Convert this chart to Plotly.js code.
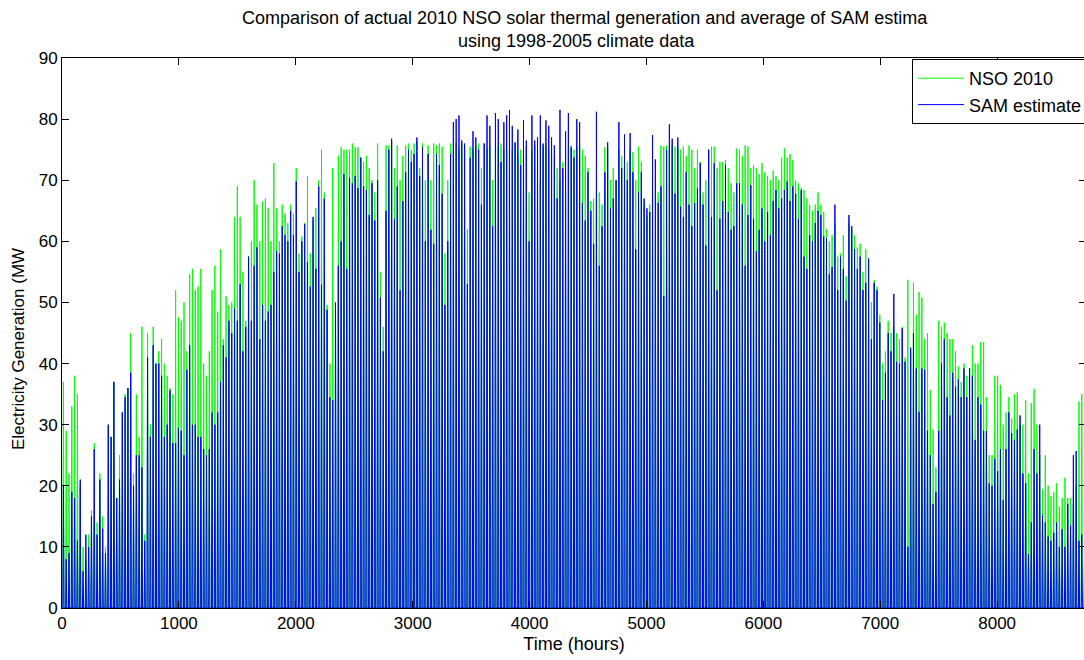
<!DOCTYPE html>
<html>
<head>
<meta charset="utf-8">
<script src="https://cdn.plot.ly/plotly-3.0.1.min.js"></script>
<style>
html,body{margin:0;padding:0;background:#fff;overflow:hidden;}
#chart{width:1089px;height:660px;}
</style>
</head>
<body>
<div id="chart"></div>
<script>
// Daily peak generation (MW), one value per day of 2010
const nso2010 = [
37,29,22,33,38,35,20,10,8,12,16,27,14,22,15,10,30,28,37,18,25,32,35,36,45,22,35,28,46,12,45,30,46,40,42,
44,40,38,36,35,52,47.6,47,50,42,54.6,55.5,52,52.6,55.5,40,38,42,52,56,48.5,58.7,44,51,49.6,50,64,69,64,55,47,57.5,
60,70,66,60,66.5,67,65.5,60,72.8,65.4,60,66,64.5,63,66,64.5,72,58,60.8,63,70.7,58,63.4,65.4,70,75,68,49.6,40,72,49.6,74,75.4,75,
75,75,76,75.4,75.4,73.7,73,74,72,70,68,76,55,46,75.7,75.7,76.3,72,75.7,70,74,75.7,76,75,76,76.3,72,76,70,75.7,70,76,75.7,
76,75.5,58,70,76,75,76,75,76,75.5,62,75.5,75,75.5,76,72,76,75,75.5,70,75,75.5,76,75,75,75.5,75,76,74,75,76,75.5,68,75,
75.7,75,70,75.5,75.7,75,75.5,74,72,70,73,68,75.5,75.7,75,75.5,75.7,75,74,72,66.6,67,67,68,66,75.4,75,70,72,70,75,74,75,73,
75,74.6,70,75.5,73,66,64,66,62,60,68,75.7,75.5,75.7,75,75.7,75.5,75.7,75,75.5,74,75.7,75,72,75,73,68,70,75,75.5,75.5,72,73,
73,73.3,72,69.5,68,75.2,75,74,75.7,75.5,72,72.5,72,71,72.8,71.3,70.7,70,71.6,70.7,70,73.7,75.2,73.7,74.3,73.3,70,69.5,68.7,68.4,67,66,65,66,
68,66,64.8,62,60,61,63,57.5,58,61,54.3,63,62,61,59,59.6,55,58.7,57,50,53.7,52.6,48,40,42,47,45,46,45,44,46,41,53.7,42,
53.2,48,51.7,50.8,44,45,35.6,29.2,23,47,46,46.7,45,44,44,42,39.5,37,40,38,39.2,43,40,40,43.5,43.5,34.5,25,25,38,38,36.5,30,
32,34.5,31,35,35.3,30,30,34,22,33.5,35.8,30,25,19.5,25,20,18.3,19,20.4,16.6,18,21.3,18,18,17,20,33.8,35
];
const samEstimate = [
20,8,9,19,18,11,21,6,12,10,15,26,12,21,13,9,30,28,37,18,21,32,34.5,36,38.5,20,25,25,23,11,41,28,43,40,40,
38,28,30,35.6,27,27,29.5,29,25,39,43,30,30,28,28,26,25,26,32,30,32,37,43,41,47,45,49,47,53,42,46,57.5,
47,56,59,44,49.6,47,48.5,49.6,55,58.4,58,62.5,61,60,65,61,69.8,55,60,62.8,56.6,52.6,64,55.5,69,52.9,67,48.8,34.5,34,50,56,60,71,
55.5,70.4,69.5,70.7,68.7,73.7,69,68.4,64.3,69.5,63.4,70,50.8,42,65,75,76.8,63.7,69,52,66.6,71.3,75,73,74.3,77,70.7,75.4,60,74.3,61.9,59.6,74.3,
72.5,67.8,49.6,60,74.3,79.5,80,80.6,76.5,76,53,73.7,78,77,75,66,76,80.6,78.9,62.5,81,80,73,79.5,80.6,81.5,78.9,76.2,78.3,72.5,79.8,76.5,60,80.6,
76.5,77,80.6,76,79.8,78.9,77,75.7,67,81.5,72,78,81,75.4,73.7,80,79.5,66.3,63.4,71.3,65,59.6,81.2,56,62.5,71.3,76.2,65.4,67,70,79.5,72,77.5,70,
77.7,71.3,58.7,68,71.3,67,65.4,64.8,77.4,73.4,66.3,69,51,75,79.2,76.8,67.8,77,65.7,64,71.3,66,62.5,66.3,68.7,72.8,66,59.3,75,64,72.8,52,63.7,
66.6,72.5,64.8,61.9,62.5,69.5,69.5,66,56,64.3,69.2,63.7,58.4,61.9,65.4,60,64.8,61,66.6,68.4,65.4,67,68.4,69.8,66.6,69,67.8,63.7,68.4,57.5,55.5,61,60,63,
65,64.3,60.8,60.5,54.6,55.8,66,52,57.5,55.5,50.3,64.3,62.5,58.7,55.5,57.5,52,53.2,57.2,44,53.2,52,46.7,34,38.5,45,42,51.4,40.3,40,45.8,40.3,10,42.6,
45,39.2,32.1,39.2,39,29,25,17,19,29,40,44,34.5,31.5,38.5,36.2,37.4,34.5,39.2,34.5,39.2,38,27.5,34.5,33.3,29,29,20.4,20,24.4,22.4,26,17.7,
26,32,28.6,27.5,29.2,31.5,22,20.4,8.8,14,26,22,30,15.2,14,11.7,11,12.3,14,10,12.9,10,17,13.5,25,25.7,11,12,10
];
const seriesNames = ['NSO 2010', 'SAM estimate'];
const xTicks = [0,1000,2000,3000,4000,5000,6000,7000,8000];
const yTicks = [0,10,20,30,40,50,60,70,80,90];
const titleLines = ['Comparison of actual 2010 NSO solar thermal generation and average of SAM estima',
                    'using 1998-2005 climate data'];

// expand each daily peak into a daytime spike on the hourly axis
function hourly(peaks){
  const x = [], y = [];
  peaks.forEach((p, d) => {
    const h = d * 24;
    x.push(h + 7, h + 12, h + 17);
    y.push(0, p, 0);
  });
  return {x, y};
}
const g = hourly(nso2010), b = hourly(samEstimate);

const font = 'Liberation Sans, Arial, Helvetica, sans-serif';
const traces = [
  {x: g.x, y: g.y, name: seriesNames[0], type: 'scatter', mode: 'lines',
   line: {color: '#00ff00', width: 1}},
  {x: b.x, y: b.y, name: seriesNames[1], type: 'scatter', mode: 'lines',
   line: {color: '#0000ff', width: 1}}
];

const L = 62, T = 58, W = 1025, H = 550;
const px = (xp) => (xp - L) / W;
const py = (yp) => (T + H - yp) / H;

const layout = {
  width: 1089, height: 660,
  margin: {l: L, r: 2, t: T, b: 52},
  paper_bgcolor: '#fff', plot_bgcolor: '#fff',
  font: {family: font, size: 17, color: '#000'},
  xaxis: {range: [0, 8760], tickvals: xTicks, ticktext: xTicks.map(String),
          showline: true, linecolor: '#000', linewidth: 1, mirror: 'ticks',
          ticks: 'inside', ticklen: 7, tickcolor: '#000', showgrid: false, zeroline: false,
          tickfont: {family: font, size: 17, color: '#000'},
          title: {text: 'Time (hours)', font: {family: font, size: 18, color: '#000'}, standoff: 4}},
  yaxis: {range: [0, 90], tickvals: yTicks, ticktext: yTicks.map(String),
          showline: true, linecolor: '#000', linewidth: 1, mirror: 'ticks',
          ticks: 'inside', ticklen: 7, tickcolor: '#000', showgrid: false, zeroline: false,
          tickfont: {family: font, size: 17, color: '#000'}},
  showlegend: true,
  legend: {x: px(912), xanchor: 'left', y: py(59), yanchor: 'top',
           bgcolor: '#fff', bordercolor: '#000', borderwidth: 1, itemwidth: 46,
           font: {family: font, size: 18, color: '#000'}, tracegroupgap: 0},
  annotations: [
    {text: titleLines[0], xref: 'paper', yref: 'paper', x: px(586), y: py(18),
     xanchor: 'center', yanchor: 'middle', showarrow: false,
     font: {family: font, size: 18, color: '#000'}},
    {text: titleLines[1], xref: 'paper', yref: 'paper', x: px(577), y: py(41),
     xanchor: 'center', yanchor: 'middle', showarrow: false,
     font: {family: font, size: 18, color: '#000'}},
    {text: 'Electricity Generation (MW', textangle: -90, xref: 'paper', yref: 'paper',
     x: px(18), y: py(349), xanchor: 'center', yanchor: 'middle', showarrow: false,
     font: {family: font, size: 17, color: '#000'}}
  ]
};

Plotly.newPlot('chart', traces, layout, {displayModeBar: false, staticPlot: true});
</script>
</body>
</html>
